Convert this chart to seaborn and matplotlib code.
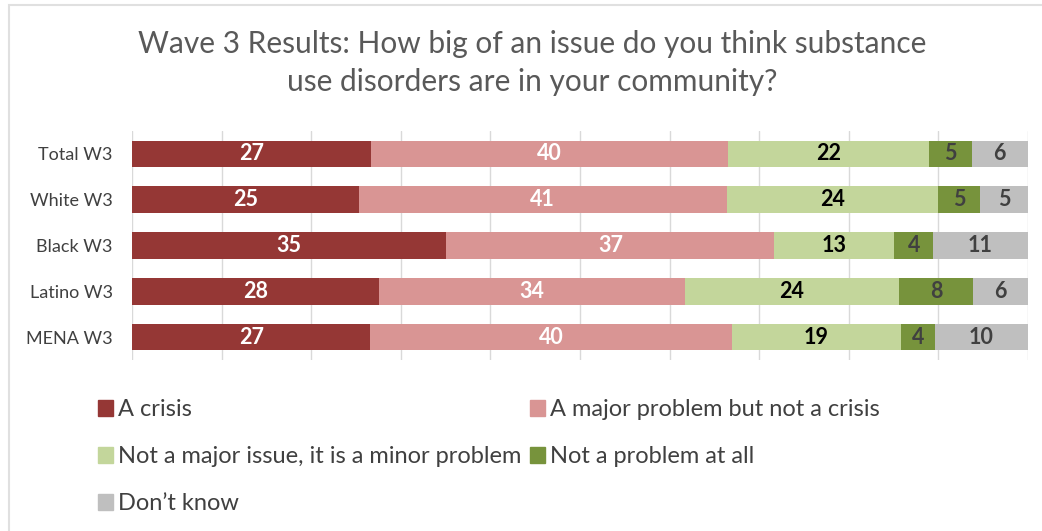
import matplotlib
matplotlib.use("Agg")
import matplotlib.pyplot as plt
import matplotlib.patches as mpatches
import seaborn as sns
import numpy as np
import pandas as pd

groups = ["Total W3", "White W3", "Black W3", "Latino W3", "MENA W3"]
crisis = [26.7, 25.3, 35.1, 27.6, 26.6]
major = [39.8, 41.1, 36.6, 34.1, 40.4]
minor = [22.4, 23.6, 13.4, 23.9, 18.8]
not_problem = [4.8, 4.6, 4.3, 8.3, 3.8]
dont_know = [6.3, 5.4, 10.6, 6.1, 10.4]

series_names = ["A crisis", "A major problem but not a crisis",
                "Not a major issue, it is a minor problem", "Not a problem at all",
                "Don\u2019t know"]
series_values = [crisis, major, minor, not_problem, dont_know]
colors = ["#953735", "#D99594", "#C3D69B", "#77933C", "#BFBFBF"]
label_colors = ["white", "white", "black", "#404040", "#404040"]

sns.set_theme(style="white")
plt.rcParams["font.family"] = ["Lato", "DejaVu Sans"]

fig = plt.figure(figsize=(10.42, 5.31), dpi=100)
ax = fig.add_axes([132 / 1042, 1 - 360 / 531, (1028 - 132) / 1042, (360 - 131) / 531])

cum = np.zeros(len(groups))
cums = []
for vals in series_values:
    cum = cum + np.array(vals)
    cums.append(cum.copy())

# draw from the longest cumulative to the shortest so each segment shows
for i in reversed(range(len(series_values))):
    d = pd.DataFrame({"group": groups, "value": cums[i]})
    sns.barplot(data=d, x="value", y="group", orient="h", color=colors[i],
                saturation=1, width=0.58, ax=ax, linewidth=0, zorder=2)

# labels
for i, vals in enumerate(series_values):
    left = cums[i] - np.array(vals)
    for j, v in enumerate(vals):
        ax.text(left[j] + v / 2, j, f"{round(v):d}", ha="center", va="center",
                color=label_colors[i], fontsize=15.5, fontweight="bold", zorder=3)

ax.set_xlim(0, 100)
ax.set_ylim(4.5, -0.5)
ax.set_xticks(np.arange(0, 101, 10))
ax.set_xticklabels([])
ax.tick_params(axis="x", length=0)
ax.tick_params(axis="y", length=0, labelsize=13, labelcolor="#404040", pad=14)
ax.grid(axis="x", color="#D9D9D9", linewidth=1, zorder=0)
ax.set_axisbelow(True)
ax.set_xlabel("")
ax.set_ylabel("")
for s in ax.spines.values():
    s.set_visible(False)

fig.text(532 / 1042, 1 - 63 / 531,
         "Wave 3 Results: How big of an issue do you think substance\nuse disorders are in your community?",
         ha="center", va="center", fontsize=21.5, color="#595959", linespacing=1.4)

handles = [mpatches.Patch(color=c, label=n) for c, n in zip(colors, series_names)]
order = [0, 2, 4, 1, 3]
leg = fig.legend([handles[k] for k in order], [series_names[k] for k in order],
                 loc="upper left", bbox_to_anchor=(98 / 1042, 1 - 399 / 531), ncol=2,
                 frameon=False, fontsize=17, handlelength=0.65, handleheight=0.65,
                 handletextpad=0.2, columnspacing=0.35, labelspacing=1.1,
                 labelcolor="#404040", borderaxespad=0, borderpad=0)

fig.patches.append(mpatches.Rectangle((9 / 1042, -0.1), 1.2, 1 - 5 / 531 + 0.1,
                                      transform=fig.transFigure, fill=False,
                                      edgecolor="#E0E0E0", linewidth=1.5))

fig.savefig("out.png", dpi=100)
